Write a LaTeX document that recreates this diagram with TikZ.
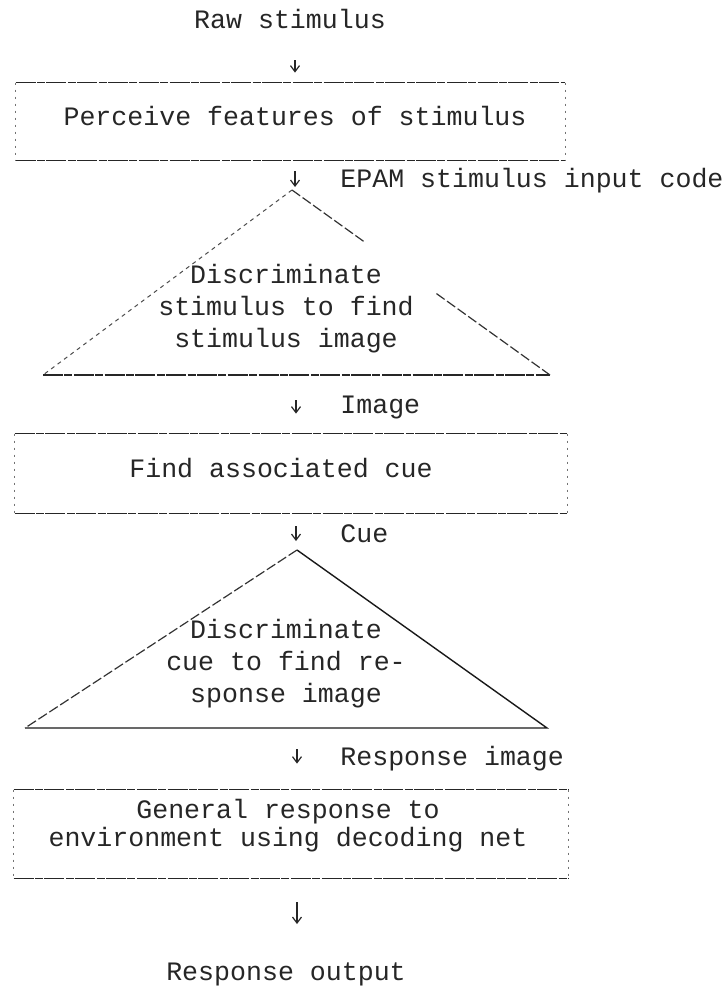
\documentclass[tikz,border=0pt]{standalone}
\usepackage{fontspec}
\newfontfamily\typefont{Liberation Mono}
\usetikzlibrary{arrows.meta,calc,positioning}

\begin{document}
\begin{tikzpicture}[x=0.5pt,y=-0.5pt,
    txt/.style={font=\typefont\fontsize{13.3}{16}\selectfont,text=black!85,inner sep=0pt,anchor=base},
    lbl/.style={txt,anchor=base west},
    frame/.style={draw=none,inner sep=0pt},
    edge/.style={line width=0.8pt,black!85,dash pattern=on 10pt off 0.7pt on 4pt off 0.7pt},
    side/.style={line width=0.5pt,black!55,dash pattern=on 1pt off 2.5pt},
    faint/.style={line width=0.5pt,black!70,dash pattern=on 2pt off 2pt},
    broken/.style={line width=0.6pt,black!80,dash pattern=on 5pt off 1.5pt},
    stroke/.style={line width=0.7pt,black!90},
    tick/.style={-{Straight Barb[length=3pt,width=4.5pt]},line width=0.6pt,black!85}]
    \useasboundingbox (0,0) rectangle (725,996);
    % boxes
    \node[frame,minimum width=274.5pt,minimum height=38.5pt] (b1) at (290.5,121.5) {};
    \node[frame,minimum width=276pt,minimum height=39.5pt] (b2) at (291,473.5) {};
    \node[frame,minimum width=277pt,minimum height=44pt] (b3) at (291,834) {};
    \foreach \b in {b1,b2,b3} {
      \draw[edge] (\b.north west) -- (\b.north east);
      \draw[edge] (\b.south west) -- (\b.south east);
      \draw[side] (\b.north west) -- (\b.south west);
      \draw[side] (\b.north east) -- (\b.south east);
    }
    % triangles
    \coordinate (t1a) at (292,190);
    \coordinate (t1l) at (43,375);
    \coordinate (t1r) at (550,375);
    \draw[faint] (t1a) -- (t1l);
    \draw[edge] (t1l) -- (t1r);
    \draw[broken] (t1a) -- ($(t1a)!0.28!(t1r)$);
    \draw[broken] ($(t1a)!0.56!(t1r)$) -- (t1r);
    \coordinate (t2a) at (297,550);
    \coordinate (t2l) at (25,728);
    \coordinate (t2r) at (547,728);
    \draw[broken] (t2a) -- (t2l);
    \draw[stroke] (t2a) -- (t2r) -- (t2l);
    % texts
    \node[txt] (raw) at (290,28) {Raw stimulus};
    \node[txt] (perc) at (295,125) {Perceive features of stimulus};
    \node[txt,align=center] (disc1) at (286,347) {Discriminate\\stimulus to find\\stimulus image};
    \node[txt] (find) at (281,477) {Find associated cue};
    \node[txt,align=center] (disc2) at (286,702) {Discriminate\\cue to find re-\\sponse image};
    \node[txt] (gen1) at (288,818) {General response to};
    \node[txt] (gen2) at (288,846) {environment using decoding net};
    \node[txt] (out) at (286,980) {Response output};
    \node[lbl] (epam) at (340,187) {EPAM stimulus input code};
    \node[lbl] (img) at (340,413) {Image};
    \node[lbl] (cue) at (340,542) {Cue};
    \node[lbl] (rimg) at (340,765) {Response image};
    % arrows
    \coordinate (a1) at (295,60);
    \coordinate (a2) at (295,171);
    \coordinate (a3) at (296,400);
    \coordinate (a4) at (296,526);
    \coordinate (a5) at (297,749);
    \coordinate (a6) at (297,924);
    \draw[tick,shorten >=5pt] (a1) -- (a1 |- b1.north);
    \draw[tick,shorten >=1.5pt] (a2) -- (a2 |- t1a);
    \draw[tick,shorten >=10pt] (a3) -- (a3 |- b2.north);
    \draw[tick,shorten >=4.5pt] (a4) -- (a4 |- t2a);
    \draw[tick,shorten >=13pt] (a5) -- (a5 |- b3.north);
    \draw[tick,shorten <=12pt] (b3.south -| a6) -- (a6);
\end{tikzpicture}
\end{document}
